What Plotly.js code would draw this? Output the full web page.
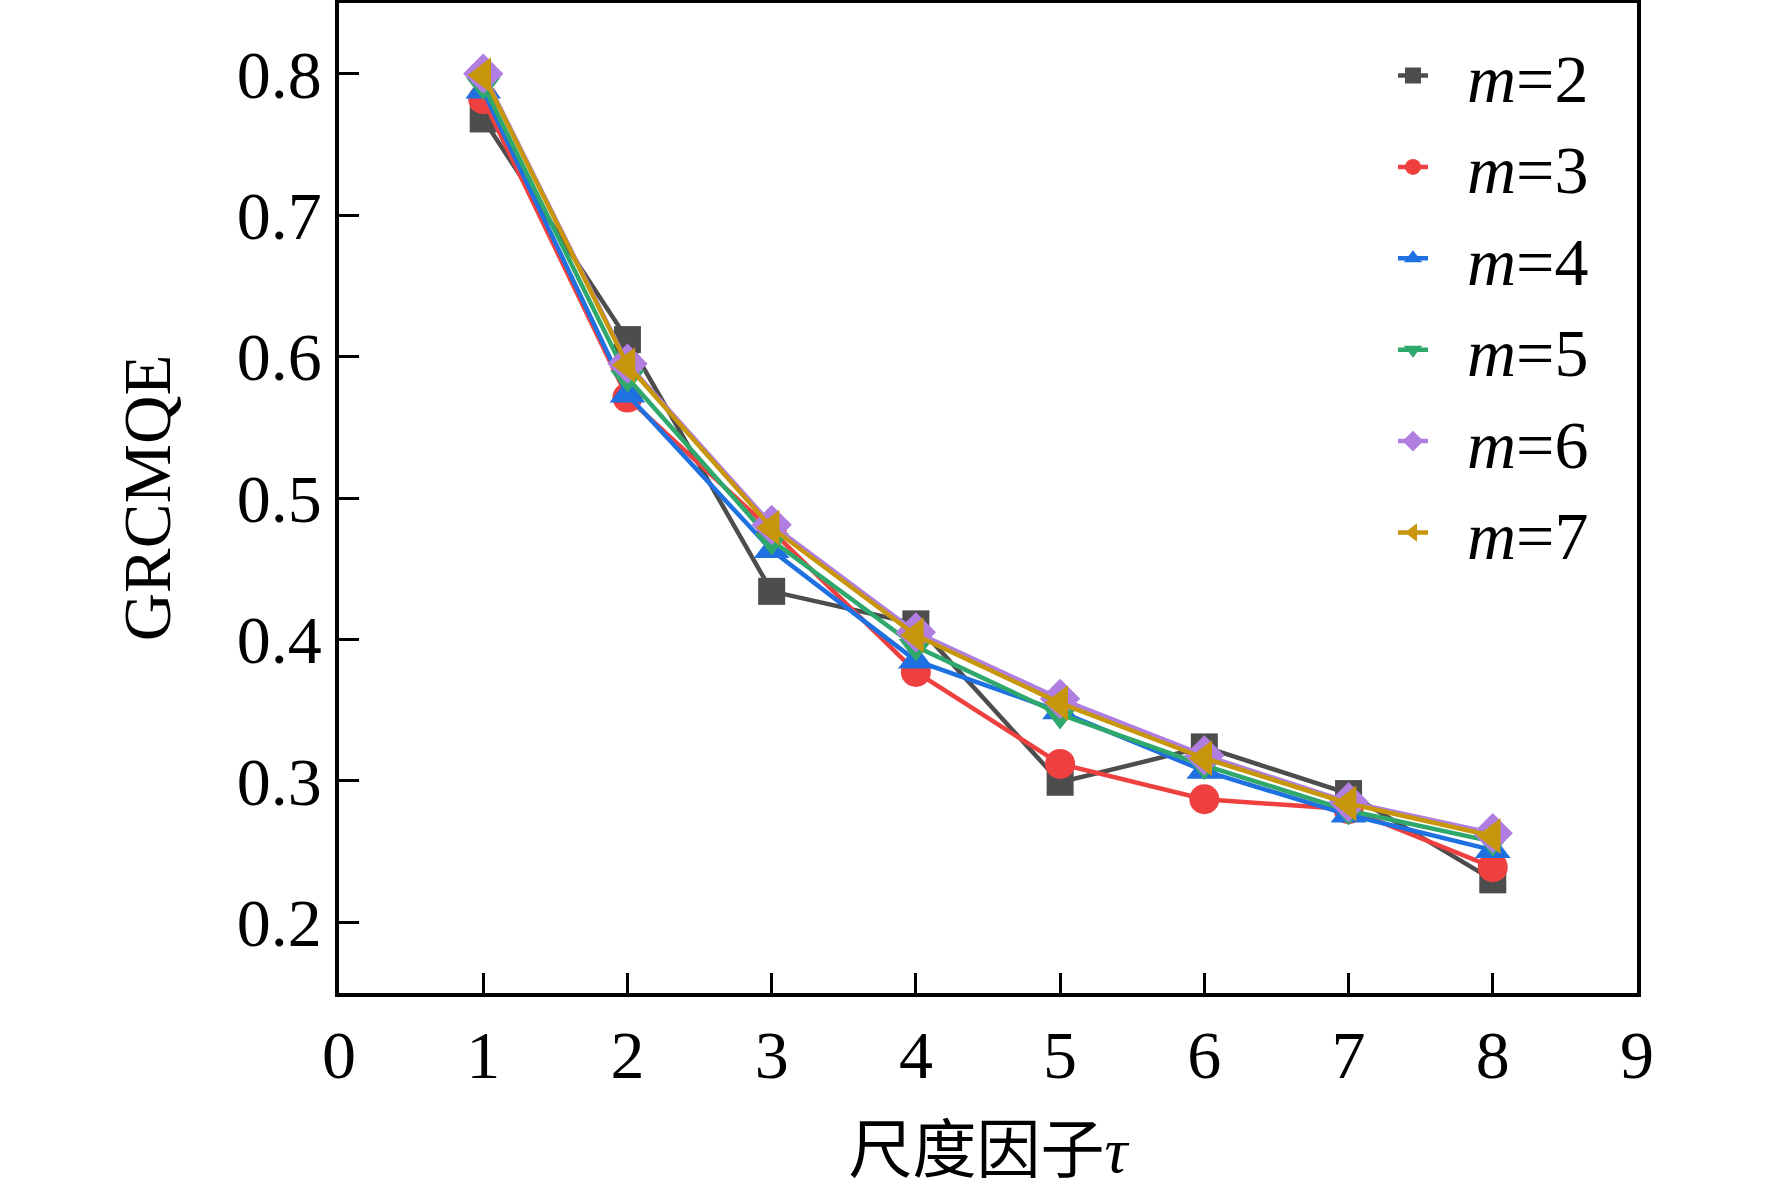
<!DOCTYPE html>
<html>
<head>
<meta charset="utf-8">
<script src="https://cdn.plot.ly/plotly-3.0.1.min.js"></script>
<style>
  html, body { margin: 0; padding: 0; background: #fff; }
  #plotly__graph { width: 1772px; height: 1189px; }
</style>
</head>
<body>
<div id="plotly__graph"></div>
<script>
// **********************************************************************************************
// DATA

const scale_factor = [1, 2, 3, 4, 5, 6, 7, 8];
const series_names = ['m=2', 'm=3', 'm=4', 'm=5', 'm=6', 'm=7'];

const m2 = [0.768, 0.612, 0.434, 0.411, 0.299, 0.324, 0.291, 0.230];
const m3 = [0.782, 0.571, 0.477, 0.377, 0.312, 0.287, 0.280, 0.239];
const m4 = [0.788, 0.573, 0.463, 0.385, 0.349, 0.307, 0.276, 0.251];
const m5 = [0.792, 0.585, 0.470, 0.395, 0.347, 0.311, 0.279, 0.257];
const m6 = [0.800, 0.595, 0.481, 0.405, 0.358, 0.318, 0.285, 0.263];
const m7 = [0.799, 0.594, 0.479, 0.403, 0.355, 0.316, 0.284, 0.261];

const x_ticks = [0, 1, 2, 3, 4, 5, 6, 7, 8, 9];
const y_ticks = [0.2, 0.3, 0.4, 0.5, 0.6, 0.7, 0.8];

// **********************************************************************************************
// STYLE

const colors = ['#4d4d4d', '#ef4040', '#1f70e0', '#2fa86c', '#b07ee0', '#c8960a'];
const symbols = ['square', 'circle', 'triangle-up', 'triangle-down', 'diamond', 'triangle-left'];
const sizes = [27, 30, 31, 30, 31, 31];

const serif = '"Liberation Serif", "Times New Roman", serif';

// legend label: italic m, pushed a little away from the symbol
const legend_label = (name) => '&nbsp;&nbsp;<i>' + name.slice(0, 1) + '</i>' + name.slice(1);

let data = [m2, m3, m4, m5, m6, m7].map((y, i) => ({
    name: legend_label(series_names[i]),
    type: 'scatter',
    mode: 'lines+markers',
    x: scale_factor,
    y: y,
    legendgroup: 'g' + i,
    line: { color: colors[i], width: 4.5 },
    marker: { color: colors[i], symbol: symbols[i], size: sizes[i] }
}));

// **********************************************************************************************
// LAYOUT

const axis_common = {
    showline: true,
    linecolor: '#000',
    linewidth: 3.5,
    mirror: true,
    ticks: 'inside',
    ticklen: 20,
    tickwidth: 3,
    tickcolor: '#000',
    showgrid: false,
    zeroline: false,
    tickfont: { family: serif, size: 68, color: '#000' }
};

let layout = {
    width: 1772,
    height: 1189,
    paper_bgcolor: '#fff',
    plot_bgcolor: '#fff',
    margin: { t: 3, r: 135, b: 196, l: 339, pad: 0 },
    showlegend: true,
    legend: {
        x: 0.812,
        y: 0.978,
        xanchor: 'left',
        yanchor: 'top',
        bgcolor: 'rgba(0,0,0,0)',
        traceorder: 'grouped',
        tracegroupgap: 0,
        font: { family: serif, size: 68, color: '#000' }
    },
    xaxis: Object.assign({}, axis_common, {
        range: [0, 9],
        tickvals: x_ticks,
        ticktext: x_ticks.map(String),
        title: {
            text: '尺度因子<i>τ</i>',
            font: { family: '"Liberation Serif", "Noto Sans CJK SC", serif', size: 64, color: '#000' },
            standoff: 36
        }
    }),
    yaxis: Object.assign({}, axis_common, {
        range: [0.15, 0.85],
        tickvals: y_ticks,
        ticktext: y_ticks.map(v => v.toFixed(1)),
        title: {
            text: 'GRCMQE',
            font: { family: serif, size: 67, color: '#000' },
            standoff: 45
        }
    })
};

// **********************************************************************************************
// CONFIG

const config = {
    displaylogo: false,
    displayModeBar: false
};

Plotly.newPlot(document.getElementById('plotly__graph'), data, layout, config);
</script>
</body>
</html>
